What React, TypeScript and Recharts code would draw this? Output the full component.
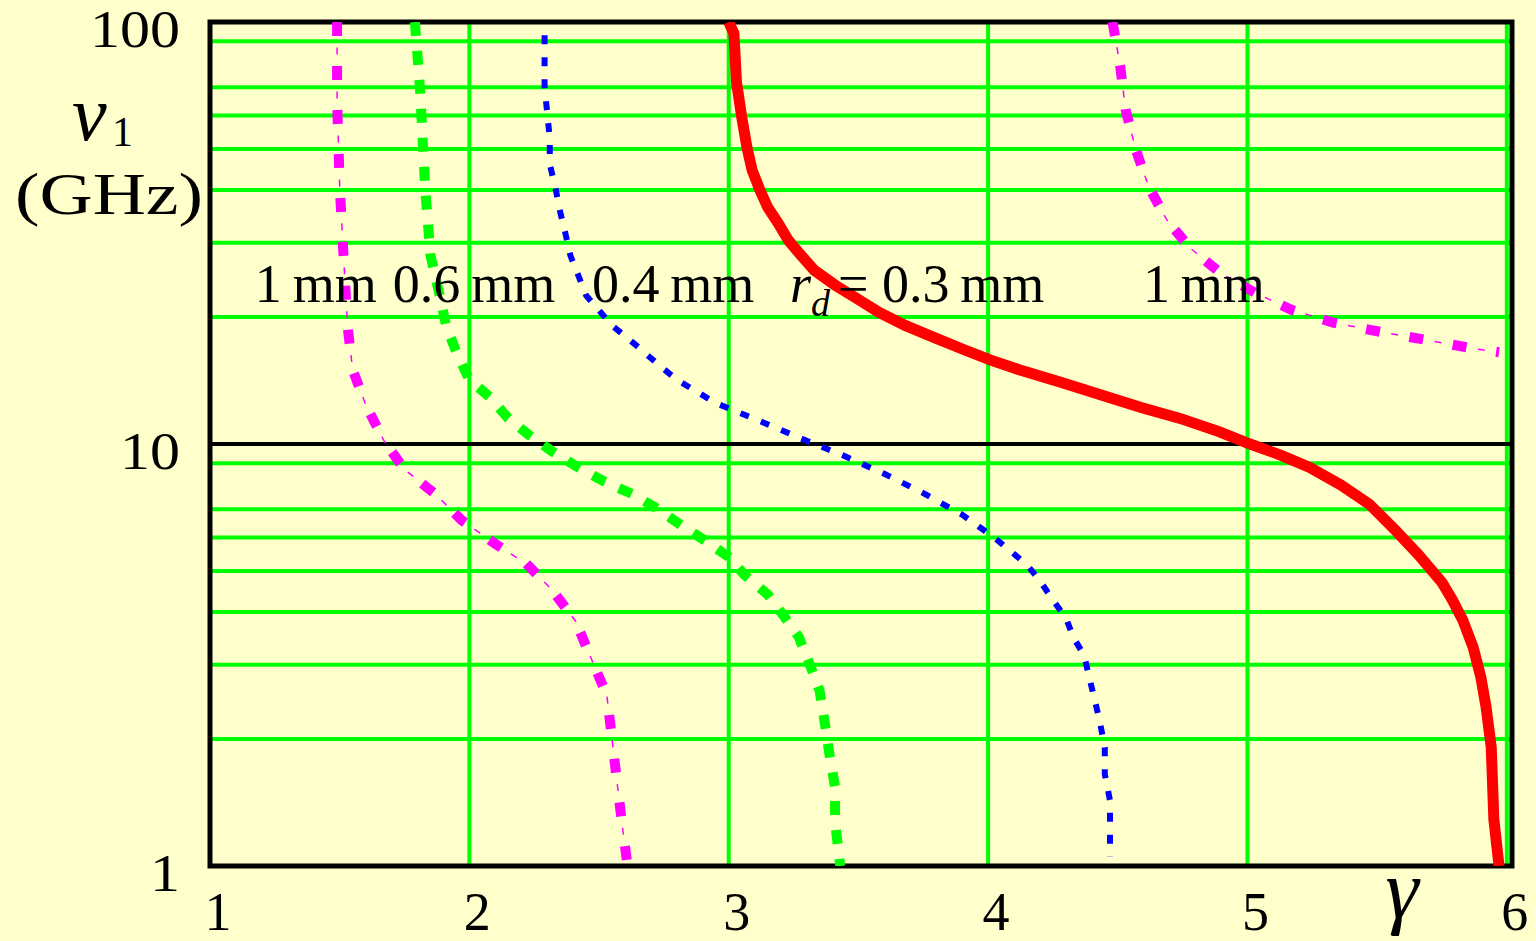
import React from 'react';
import {
  LineChart,
  Line,
  XAxis,
  YAxis,
  CartesianGrid,
  ReferenceLine,
  ReferenceArea,
  ReferenceDot,
  Label,
} from 'recharts';

// gamma (x) vs nu_1 in GHz (y, log)
const xTicks = [1, 2, 3, 4, 5, 6];
const yTicks = [1, 10, 100];
const xGridValues = [2, 3, 4, 5, 6];
const yGridValues = [2, 3, 4, 5, 6, 7, 8, 9, 20, 30, 40, 50, 60, 70, 80, 90];

const mm1Left: [number, number][] = [
  [1.49, 100], [1.49, 65], [1.5, 41], [1.51, 31.6], [1.53, 19.1], [1.55, 15.0],
  [1.6, 12.4], [1.67, 10.2], [1.75, 8.7], [1.87, 7.6], [1.97, 6.6], [2.1, 5.8],
  [2.22, 5.2], [2.32, 4.5], [2.41, 3.8], [2.47, 3.1], [2.53, 2.54], [2.55, 2.0],
  [2.57, 1.57], [2.59, 1.24], [2.61, 1.0],
];

const mm06: [number, number][] = [
  [1.79, 100], [1.81, 69], [1.83, 40], [1.85, 28], [1.89, 21.9], [1.91, 19.1],
  [1.95, 16.5], [2.0, 14.2], [2.08, 12.9], [2.15, 11.5], [2.23, 10.5], [2.32, 9.6],
  [2.42, 8.8], [2.52, 8.15], [2.63, 7.6], [2.72, 7.05], [2.82, 6.4], [2.91, 5.9],
  [3.0, 5.4], [3.06, 4.9], [3.15, 4.4], [3.21, 3.93], [3.27, 3.49], [3.31, 3.03],
  [3.35, 2.61], [3.37, 2.19], [3.39, 1.81], [3.41, 1.54], [3.41, 1.27], [3.43, 1.0],
];

const mm04: [number, number][] = [
  [2.29, 93], [2.29, 80], [2.29, 70], [2.3, 61], [2.31, 53], [2.31, 46],
  [2.33, 41], [2.35, 35.5], [2.37, 31.6], [2.39, 27.9], [2.42, 25.1], [2.45, 22.5],
  [2.55, 19.1], [2.64, 17.2], [2.73, 15.4], [2.8, 14.2], [2.95, 12.5], [3.11, 11.4],
  [3.28, 10.3], [3.44, 9.4], [3.6, 8.5], [3.75, 7.65], [3.9, 6.8], [4.03, 5.96],
  [4.15, 5.17], [4.2, 4.74], [4.25, 4.27], [4.3, 3.87], [4.33, 3.47], [4.37, 3.16],
  [4.39, 2.8], [4.41, 2.49], [4.43, 2.21], [4.45, 1.91], [4.45, 1.65], [4.47, 1.43],
  [4.47, 1.24], [4.47, 1.05],
];

const mm03: [number, number][] = [
  [3.0, 100], [3.02, 94], [3.03, 72], [3.05, 59.6], [3.07, 50.6], [3.09, 44.6],
  [3.12, 40], [3.15, 36.4], [3.19, 33.4], [3.23, 30.4], [3.27, 28.4], [3.33, 25.8],
  [3.41, 23.8], [3.49, 22.2], [3.58, 20.5], [3.68, 19.1], [3.8, 17.8], [3.91, 16.7],
  [4.01, 15.8], [4.12, 15.0], [4.28, 14.0], [4.43, 13.1], [4.59, 12.2], [4.74, 11.5],
  [4.89, 10.7], [5.01, 10.0], [5.13, 9.4], [5.24, 8.8], [5.36, 8.0], [5.47, 7.2],
  [5.57, 6.25], [5.66, 5.46], [5.75, 4.7], [5.79, 4.27], [5.83, 3.83], [5.87, 3.3],
  [5.9, 2.8], [5.92, 2.38], [5.94, 1.91], [5.95, 1.29], [5.97, 1.0],
];

const mm1Right: [number, number][] = [
  [4.48, 100], [4.51, 78], [4.53, 62], [4.57, 49.7], [4.62, 40.6], [4.69, 33.9],
  [4.78, 29.1], [4.89, 25.6], [5.03, 22.8], [5.17, 20.8], [5.33, 19.4], [5.52, 18.4],
  [5.7, 17.6], [5.88, 16.8], [5.97, 16.5],
];

const labelTexts = ['1\u2009mm', '0.6\u2009mm', '0.4\u2009mm', '= 0.3\u2009mm', '1\u2009mm'];
const labelX = [1.173, 1.705, 2.473, 3.236, 4.597];
const labelY = 21.7;

const toPoints = (arr: [number, number][]) => arr.map(([x, y]) => ({ x, y }));

const serif = '"Liberation Serif", "DejaVu Serif", serif';

const YTick = (props: any) => {
  const { x, y, payload } = props;
  const s = String(payload.value);
  return (
    <text x={x} y={y + 25} textAnchor="end" fontFamily={serif} fontSize={52} fill="#000"
      textLength={s.length * 30} lengthAdjust="spacingAndGlyphs">
      {s}
    </text>
  );
};

const XTick = (props: any) => {
  const { x, y, payload } = props;
  return (
    <text x={x + 8} y={y + 64} textAnchor="middle" fontFamily={serif} fontSize={54} fill="#000">
      {payload.value}
    </text>
  );
};

const AnnotationShape = (text: string, withR: boolean) => (p: any) => (
  <text x={p.cx} y={p.cy} fontFamily={serif} fontSize={54} fill="#000">
    {withR && <tspan fontStyle="italic">r</tspan>}
    {withR && <tspan fontStyle="italic" fontSize={38} dy={14}>d</tspan>}
    <tspan dy={withR ? -14 : 0} dx={withR ? 8 : 0}>{text}</tspan>
  </text>
);

export default function App() {
  return (
    <div style={{ position: 'fixed', left: 0, top: 0, width: 1536, height: 941, background: '#ffffcc' }}>
      <LineChart width={1536} height={941} margin={{ top: 22, right: 24, bottom: 0, left: 0 }}>
        <CartesianGrid
          stroke="#00ff00"
          strokeWidth={4}
          horizontalValues={yGridValues}
          verticalValues={xGridValues}
        />
        <XAxis
          type="number"
          dataKey="x"
          domain={[1, 6.02]}
          ticks={xTicks}
          allowDataOverflow
          height={75}
          axisLine={false}
          tickLine={false}
          tickSize={0}
          tickMargin={0}
          tick={<XTick />}
        >
          <Label
            content={(p: any) => (
              <text x={p.viewBox.x + p.viewBox.width - 110} y={p.viewBox.y + 52} textAnchor="middle"
                fontFamily={serif} fontStyle="italic" fontSize={84} fill="#000">
                γ
              </text>
            )}
          />
        </XAxis>
        <YAxis
          type="number"
          dataKey="y"
          scale="log"
          domain={[1, 100]}
          ticks={yTicks}
          allowDataOverflow
          width={210}
          axisLine={false}
          tickLine={false}
          tickSize={0}
          tickMargin={30}
          tick={<YTick />}
        >
          <Label
            content={() => (
              <g fontFamily={serif} fill="#000">
                <text x={72} y={140} fontStyle="italic" fontSize={78}>ν</text>
                <text x={112} y={146} fontSize={42}>1</text>
                <text x={109} y={214} textAnchor="middle" fontSize={60} textLength={188}
                  lengthAdjust="spacingAndGlyphs">(GHz)</text>
              </g>
            )}
          />
        </YAxis>
        <ReferenceLine y={10} stroke="#000" strokeWidth={4} />

        <Line data={toPoints(mm1Left)} dataKey="y" type="linear" stroke="#ff00ff" strokeWidth={10}
          strokeDasharray="14 30" dot={false} activeDot={false} isAnimationActive={false} />
        <Line data={toPoints(mm1Left)} dataKey="y" type="linear" stroke="#ff00ff" strokeWidth={1.5}
          strokeDasharray="0 25.5 7 11.5" dot={false} activeDot={false} isAnimationActive={false} />
        <Line data={toPoints(mm06)} dataKey="y" type="linear" stroke="#00ff00" strokeWidth={10}
          strokeDasharray="14 15" dot={false} activeDot={false} isAnimationActive={false} />
        <Line data={toPoints(mm04)} dataKey="y" type="linear" stroke="#0000ff" strokeWidth={6}
          strokeDasharray="9 13" dot={false} activeDot={false} isAnimationActive={false} />
        <Line data={toPoints(mm03)} dataKey="y" type="linear" stroke="#ff0000" strokeWidth={11}
          dot={false} activeDot={false} isAnimationActive={false} />
        <Line data={toPoints(mm1Right)} dataKey="y" type="linear" stroke="#ff00ff" strokeWidth={10}
          strokeDasharray="14 30" dot={false} activeDot={false} isAnimationActive={false} />
        <Line data={toPoints(mm1Right)} dataKey="y" type="linear" stroke="#ff00ff" strokeWidth={1.5}
          strokeDasharray="0 25.5 7 11.5" dot={false} activeDot={false} isAnimationActive={false} />

        <ReferenceArea x1={1} x2={6.02} y1={1} y2={100} fill="none" stroke="#000" strokeWidth={5}
          fillOpacity={0} />

        {labelTexts.map((t, i) => (
          <ReferenceDot key={i} x={labelX[i]} y={labelY} r={0}
            shape={AnnotationShape(t, i === 3)} />
        ))}
      </LineChart>
    </div>
  );
}
